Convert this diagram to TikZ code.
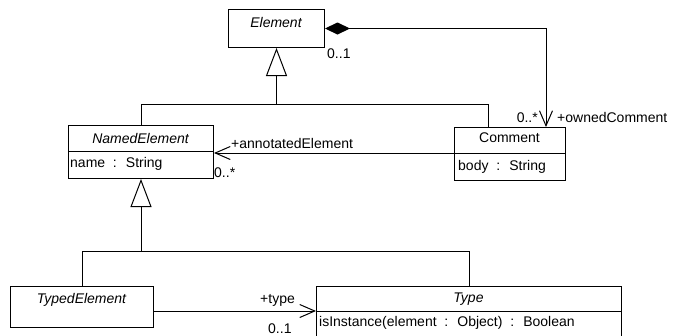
\documentclass[tikz,border=0pt]{standalone}
\usepackage{fontspec}
\setmainfont[WordSpace=2]{Liberation Sans}
\usetikzlibrary{arrows.meta,calc}
\begin{document}
\begin{tikzpicture}[x=1pt,y=-1pt,
  font=\fontsize{14}{16}\selectfont,
  box/.style={draw, line width=1pt, inner sep=0pt, anchor=north west},
  txt/.style={inner sep=0pt, text height=10pt, text depth=0pt},
  abs/.style={txt, font=\fontsize{14}{16}\selectfont\itshape},
  lbl/.style={txt, anchor=west},
  wire/.style={line width=1pt},
  gen/.style={wire, -{Triangle[open, length=28pt, width=21pt]}},
  nav/.style={wire, -{Straight Barb[length=15pt, width=13pt]}},
  comp/.style={wire, {Diamond[length=25pt, width=12pt]}-{Straight Barb[length=15pt, width=13pt]}},
]
\useasboundingbox (0,0) rectangle (675,335);
\clip (0,0) rectangle (675,335);
\fill[white] (0,0) rectangle (675,335);

% classes
\node[box, minimum width=96pt, minimum height=38pt] (element) at (228,9) {};
\node[abs] (elementname) at (276,22) {Element};

\node[box, minimum width=145pt, minimum height=26pt] (named) at (68,125) {};
\node[abs] (namedname) at (140.5,138) {NamedElement};
\node[box, minimum width=145pt, minimum height=27pt] (namedattr) at (68,151) {};
\node[lbl] (namedattrtext) at (70,162) {name : String};

\node[box, minimum width=111pt, minimum height=26pt] (comment) at (454,127) {};
\node[txt] (commentname) at (509.5,137.5) {Comment};
\node[box, minimum width=111pt, minimum height=27pt] (commentattr) at (454,153) {};
\node[lbl] (commentattrtext) at (458,165) {body : String};

\node[box, minimum width=143pt, minimum height=41pt] (typed) at (10,286) {};
\node[abs] (typedname) at (81.5,298) {TypedElement};

\node[box, minimum width=305pt, minimum height=25pt] (type) at (316,286) {};
\node[abs] (typename) at (468.5,297) {Type};
\node[box, minimum width=305pt, minimum height=40pt] (typeops) at (316,311) {};
\node[lbl] (typeopstext) at (319,321) {isInstance(element : Object) : Boolean};

% generalisations
\coordinate (bar1) at ($(element.south)+(0,56)$);
\draw[gen] (named.north) |- (bar1) -- (element.south);
\draw[wire] ($(comment.north west)+(34,0)$) |- (bar1);

\coordinate (bar2) at ($(namedattr.south)+(0,72)$);
\draw[gen] (typed.north) |- (bar2) -- (namedattr.south);
\draw[wire] (type.north) |- (bar2);

% associations
\draw[comp] (element.east) -| ($(comment.north east)+(-20,0)$);
\draw[nav] (commentattr.north west) -- (commentattr.north west -| named.east);
\draw[nav] (typed.east |- typeops.north west) -- (typeops.north west);

% role names and multiplicities
\node[lbl] (m1) at (327,53) {0..1};
\node[lbl, anchor=east] (m2) at (538,117) {0..*};
\node[lbl] (r1) at (557,117) {+ownedComment};
\node[lbl] (r2) at (231,143) {+annotatedElement};
\node[lbl] (m3) at (214,172) {0..*};
\node[lbl] (r3) at (260,298) {+type};
\node[lbl] (m4) at (268,328) {0..1};
\end{tikzpicture}
\end{document}
